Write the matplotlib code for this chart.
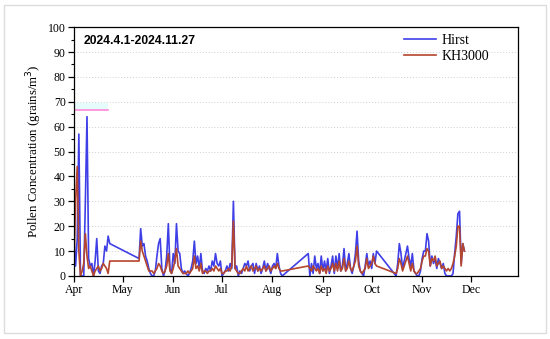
import matplotlib
matplotlib.use('Agg')
import matplotlib.pyplot as plt
import matplotlib.dates as mdates
import matplotlib.patches as mpatches
import pandas as pd

# sampling days, counted from 2024-04-01 (gaps where no samples were taken)
days = (list(range(0, 23)) + list(range(40, 129)) +
        list(range(144, 187)) + list(range(198, 241)))

hirst = [15, 4, 15, 57, 0, 0, 0, 30, 64, 7, 4, 5, 0, 6, 15, 2, 1, 4, 5, 12, 10, 16, 13,
         # May 10 - Aug 7
         7, 19, 12, 13, 8, 6, 3, 1, 0, 0, 2, 8, 13, 15, 3, 0, 2, 8, 21, 3, 1, 9, 5, 21,
         10, 9, 3, 1, 2, 1, 0, 1, 3, 6, 14, 5, 8, 3, 9, 2, 1, 3, 2, 4, 2, 6, 4, 9,
         5, 4, 6, 0, 1, 2, 4, 2, 5, 3, 30, 3, 4, 0, 2, 1, 3, 5, 4, 6, 2, 4, 5, 1,
         5, 2, 4, 1, 3, 6, 2, 5, 3, 1, 4, 5, 3, 9, 4, 1, 0,
         # Aug 23 - Oct 4
         9, 0, 5, 1, 8, 3, 5, 1, 8, 2, 6, 2, 7, 1, 4, 8, 1, 8, 3, 9, 2, 4, 11, 2,
         5, 9, 3, 1, 4, 9, 18, 6, 2, 1, 0, 4, 9, 4, 6, 3, 9, 5, 10,
         # Oct 16 - Nov 27
         0, 5, 13, 9, 3, 6, 9, 12, 7, 4, 9, 2, 1, 0, 0, 2, 7, 10, 10, 17, 14, 4, 8, 5,
         7, 3, 7, 5, 3, 5, 1, 0, 0, 0, 0, 1, 9, 16, 25, 26, 5, 13, 10]

kh3000 = [4, 30, 44, 10, 0, 2, 5, 17, 8, 3, 4, 2, 0, 2, 3, 4, 2, 3, 5, 4, 3, 1, 6,
          # May 10 - Aug 7
          6, 14, 10, 8, 6, 4, 2, 2, 2, 1, 2, 3, 5, 4, 2, 1, 2, 4, 9, 2, 1, 3, 6, 11,
          4, 3, 2, 1, 1, 1, 2, 1, 2, 3, 8, 3, 4, 2, 5, 1, 2, 2, 1, 2, 2, 3, 2, 4,
          3, 2, 3, 1, 1, 2, 2, 3, 2, 4, 22, 3, 2, 1, 1, 2, 3, 2, 4, 2, 3, 4, 2,
          3, 4, 2, 3, 2, 3, 4, 2, 3, 4, 2, 3, 4, 3, 5, 3, 2, 2,
          # Aug 23 - Oct 4
          4, 3, 2, 4, 3, 2, 3, 1, 4, 2, 3, 1, 4, 2, 3, 5, 2, 5, 2, 6, 2, 3, 7, 2,
          3, 6, 3, 2, 4, 6, 12, 4, 2, 1, 2, 3, 7, 3, 4, 5, 8, 5, 4,
          # Oct 16 - Nov 27
          1, 3, 7, 5, 2, 4, 6, 8, 5, 2, 5, 2, 1, 1, 2, 3, 6, 8, 8, 11, 10, 4, 7, 6,
          8, 4, 5, 6, 3, 4, 3, 2, 3, 2, 3, 5, 8, 12, 20, 20, 4, 13, 10]

dates = pd.Timestamp('2024-04-01') + pd.to_timedelta(days, unit='D')

plt.rcParams['font.family'] = 'Liberation Serif'

fig = plt.figure(figsize=(5.5, 3.39), dpi=100)
fig.patches.append(mpatches.Rectangle((0.008, 0.018), 0.984, 0.967, transform=fig.transFigure,
                                      fill=False, edgecolor='#dcdcdc', linewidth=1.0))
ax = fig.add_axes([0.1345, 0.186, 0.8075, 0.734])

# faint band seen in the original near 67
ax.fill_between(pd.to_datetime(['2024-04-01', '2024-04-22']), 66.8, 69.5,
                color='#e6fbfb', linewidth=0)
ax.plot(pd.to_datetime(['2024-04-01', '2024-04-22']), [66.8, 66.8], color='#ff8ad8', linewidth=1.2)

for yv in range(10, 100, 10):
    ax.axhline(yv, color='#cfcfcf', linestyle=(0, (1, 2)), linewidth=0.7, zorder=0)

ax.plot(dates, hirst, color='#3f3fe8', linewidth=1.2, label='Hirst')
ax.plot(dates, kh3000, color='#b4452e', linewidth=1.2, label='KH3000')

ax.set_ylim(0, 100)
ax.set_xlim(pd.Timestamp('2024-04-01'), pd.Timestamp('2024-12-30'))
ax.set_yticks(range(0, 101, 10))
ax.set_yticks(range(5, 100, 10), minor=True)
ax.xaxis.set_major_locator(mdates.MonthLocator())
ax.xaxis.set_major_formatter(mdates.DateFormatter('%b'))
ax.tick_params(axis='both', which='major', direction='out', length=4, width=0.9, labelsize=8.5, pad=2)
ax.tick_params(axis='y', which='minor', direction='out', length=2.5, width=0.8)
for s in ax.spines.values():
    s.set_linewidth(0.9)

ax.set_ylabel('Pollen Concentration (grains/m$^3$)', fontsize=9.3, labelpad=3)

ax.text(0.022, 0.945, '2024.4.1-2024.11.27', transform=ax.transAxes, fontsize=8.7,
        fontweight='bold', family='Liberation Sans', va='center', ha='left')

ax.legend(loc='upper right', bbox_to_anchor=(0.962, 1.022), frameon=False, fontsize=10,
          handlelength=2.3, handletextpad=0.4, labelspacing=0.2)

plt.savefig('out.png', dpi=100)
